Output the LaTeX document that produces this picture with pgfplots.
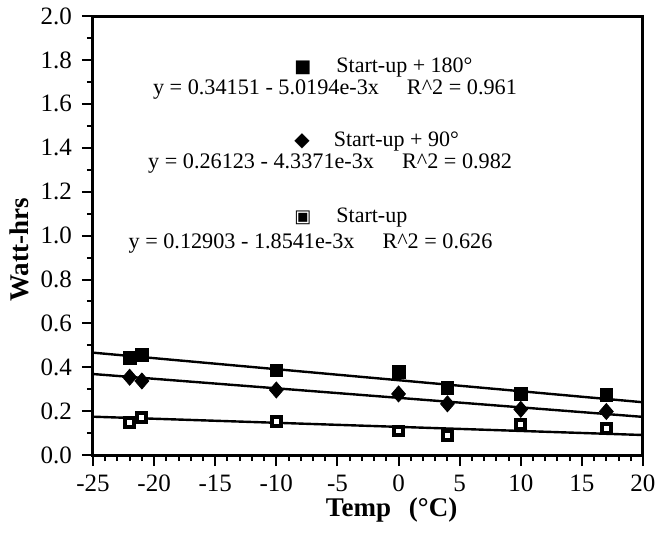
\documentclass[border=0pt]{standalone}
\usepackage{fontspec}
\setmainfont{Liberation Serif}
\newfontfamily\sym{DejaVu Sans}
\usepackage{pgfplots}
\pgfplotsset{compat=1.18}
\begin{document}
\begin{tikzpicture}
\useasboundingbox (-46.5pt,-38.5pt) rectangle (283pt,227.6pt);
\begin{axis}[
  at={(0pt,0pt)}, anchor=south west,
  scale only axis,
  width=275pt, height=219.6pt,
  xmin=-25, xmax=20, ymin=0, ymax=2.0,
  xtick={-25,-20,...,20},
  ytick={0,0.2,...,2.01},
  minor x tick num=4,
  minor y tick num=1,
  tick align=outside,
  xtick pos=bottom, ytick pos=left,
  major tick length=5.5pt,
  minor tick length=3pt,
  every tick/.style={black, line width=1pt},
  axis line style={line width=1.5pt},
  /pgf/number format/assume math mode=true,
  ticklabel style={font=\fontsize{12.5}{14}\selectfont},
  yticklabel style={xshift=-1.5pt, /pgf/number format/.cd, fixed, fixed zerofill, precision=1},
  xticklabel style={yshift=-1pt},
  xlabel={\textbf{Temp\hspace{9pt}(°C)}},
  ylabel={\textbf{Watt-hrs}},
  label style={font=\fontsize{13.5}{15}\selectfont},
  xlabel style={at={(ticklabel cs:0.543)}, anchor=north, yshift=4pt},
  ylabel style={at={(ticklabel cs:0.467)}, anchor=south, yshift=-1pt},
  clip=false,
]
% regression lines
\addplot[black, line width=1.2pt] coordinates {(-25,0.46700) (20,0.24112)};
\addplot[black, line width=1.2pt] coordinates {(-25,0.36966) (20,0.17449)};
\addplot[black, line width=1.2pt] coordinates {(-25,0.17538) (20,0.09195)};
% Start-up + 180
\addplot[only marks, mark=square*, mark size=3.2pt, black] coordinates {
 (-22,0.442) (-21,0.457) (-10,0.386) (0,0.381) (4,0.305) (10,0.279) (17,0.275)};
% Start-up + 90
\addplot[only marks, mark=diamond*, mark size=4pt, black, mark options={xscale=1.15}] coordinates {
 (-22,0.355) (-21,0.338) (-10,0.297) (0,0.279) (4,0.234) (10,0.209) (17,0.199)};
% Start-up
\addplot[only marks, mark=square*, mark size=2.2pt, black, fill=white, mark options={line width=2pt, fill=white}] coordinates {
 (-22,0.150) (-21,0.170) (-10,0.155) (0,0.110) (4,0.090) (10,0.140) (17,0.120)};
% legend text
\node[font=\fontsize{11}{13}\selectfont, anchor=west] at (axis cs:-9.1,1.767) {{\sym\fontsize{9}{10}\selectfont ■}\hspace{12.5pt}Start-up + 180°};
\node[font=\fontsize{11.1}{13}\selectfont] at (axis cs:-5.2,1.667) {y = 0.34151 - 5.0194e-3x\hspace{14pt}R\textasciicircum 2 = 0.961};
\node[font=\fontsize{11}{13}\selectfont, anchor=west] at (axis cs:-9.1,1.43) {{\sym\fontsize{10}{10}\selectfont ◆}\hspace{12pt}Start-up + 90°};
\node[font=\fontsize{11.1}{13}\selectfont] at (axis cs:-5.6,1.33) {y = 0.26123 - 4.3371e-3x\hspace{14pt}R\textasciicircum 2 = 0.982};
\node[font=\fontsize{11}{13}\selectfont, anchor=west] at (axis cs:-9.1,1.08) {{\sym\fontsize{9}{10}\selectfont ▣}\hspace{12.5pt}Start-up};
\node[font=\fontsize{11.1}{13}\selectfont] at (axis cs:-7.2,0.965) {y = 0.12903 - 1.8541e-3x\hspace{14pt}R\textasciicircum 2 = 0.626};
\end{axis}
\end{tikzpicture}
\end{document}
